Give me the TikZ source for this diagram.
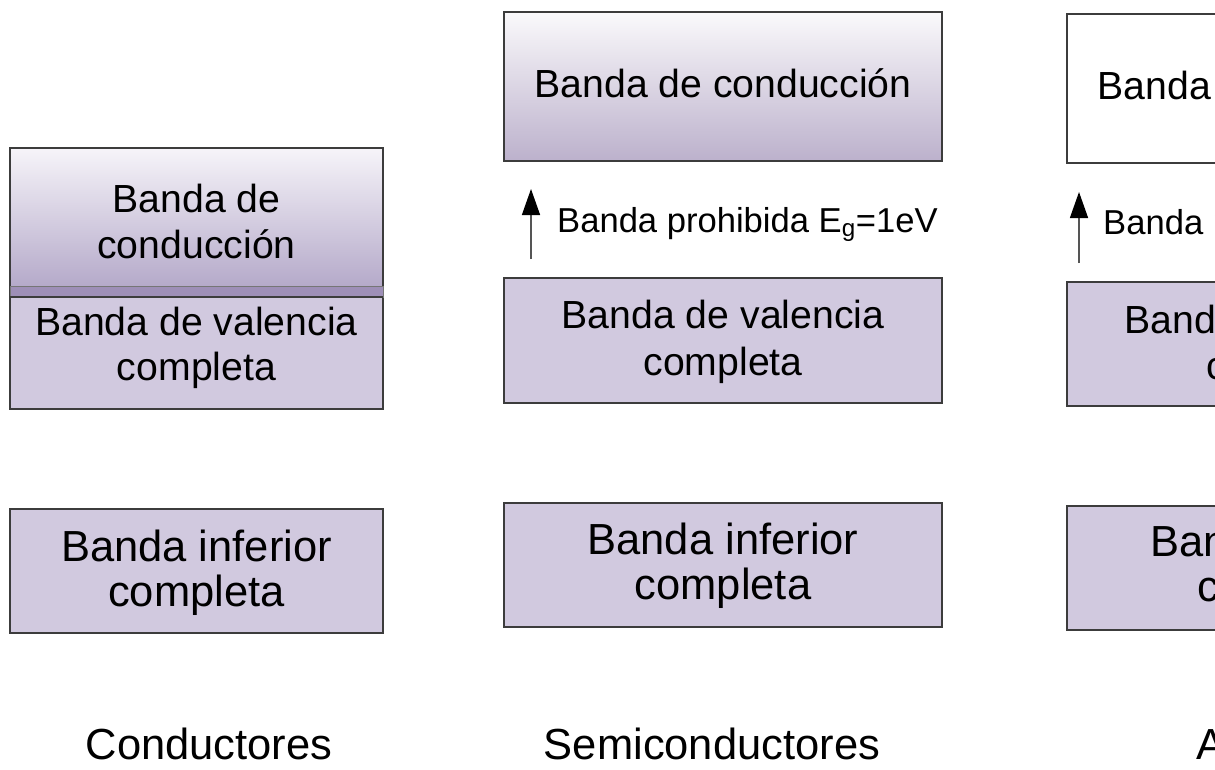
\documentclass[tikz,border=0pt]{standalone}
\usepackage{fontspec}
\setmainfont{Liberation Sans}
\usetikzlibrary{arrows.meta}
\definecolor{lav}{RGB}{209,201,223}
\definecolor{lavdark}{RGB}{158,143,183}
\definecolor{gradtopA}{RGB}{246,244,249}
\definecolor{gradbotA}{RGB}{176,164,198}
\definecolor{gradtopB}{RGB}{250,249,251}
\definecolor{gradbotB}{RGB}{188,177,204}
\definecolor{edge}{RGB}{60,60,60}
\definecolor{arrowline}{RGB}{85,85,85}
\begin{document}
\begin{tikzpicture}[x=1pt,y=-1pt,
  bandbox/.style={draw=edge, line width=1.3pt, inner sep=0pt, outer sep=0pt, anchor=north west},
  fullbox/.style={bandbox, fill=lav},
  condA/.style={bandbox, top color=gradtopA, bottom color=gradbotA},
  condB/.style={bandbox, top color=gradtopB, bottom color=gradbotB},
  emptybox/.style={bandbox, fill=white},
  overlapbox/.style={draw=edge!70, line width=0.8pt, fill=lavdark, inner sep=0pt, outer sep=0pt, anchor=north west},
  btxt/.style={font=\fontsize{39.2}{46}\selectfont, inner sep=0pt, anchor=base},
  ltxt/.style={font=\fontsize{43.5}{50}\selectfont, inner sep=0pt, anchor=base},
  gtxt/.style={font=\fontsize{34.6}{40}\selectfont, inner sep=0pt, anchor=base west},
  gaparrow/.style={draw=arrowline, line width=1.4pt, -{Triangle[width=18pt,length=26pt,color=black]}}
]
\useasboundingbox (0,0) rectangle (1215,769);
\clip (0,0) rectangle (1215,769);
\fill[white] (0,0) rectangle (1215,769);

% ---------- Conductores ----------
\node[condA, minimum width=373pt, minimum height=149pt] (c1) at (10,148) {};
\node[fullbox, minimum width=373pt, minimum height=112pt] (v1) at (10,297) {};
\node[overlapbox, minimum width=373pt, minimum height=11pt] (o1) at (10,286) {};
\draw[edge, line width=1.5pt] (o1.south west) -- (o1.south east);
\node[fullbox, minimum width=373pt, minimum height=124pt] (i1) at (10,509) {};

\node[btxt] (t1a) at (196.5,212) {Banda de};
\node[btxt] (t1b) at (196.5,258) {conducción};
\node[btxt] (t1c) at (196.5,335) {Banda de valencia};
\node[btxt] (t1d) at (196.5,380) {completa};
\node[ltxt] (t1e) at (196.5,561) {Banda inferior};
\node[ltxt] (t1f) at (196.5,606) {completa};
\node[ltxt] (l1) at (209,759) {Conductores};

% ---------- Semiconductores ----------
\node[condB, minimum width=438pt, minimum height=149pt] (c2) at (504,12) {};
\node[fullbox, minimum width=438pt, minimum height=125pt] (v2) at (504,278) {};
\node[fullbox, minimum width=438pt, minimum height=124pt] (i2) at (504,503) {};

\node[btxt] (t2a) at (723,97) {Banda de conducción};
\coordinate (a2s) at (531,259);
\coordinate (a2e) at (531,189);
\draw[gaparrow] (a2s) -- (a2e);
\node[gtxt] (g2) at (557,232) {Banda prohibida E\textsubscript{g}=1eV};
\node[btxt] (t2c) at (723,328) {Banda de valencia};
\node[btxt] (t2d) at (723,375) {completa};
\node[ltxt] (t2e) at (723,554) {Banda inferior};
\node[ltxt] (t2f) at (723,599) {completa};
\node[ltxt] (l2) at (712,759) {Semiconductores};

% ---------- Aislantes (cut by the right edge) ----------
\node[emptybox, minimum width=438pt, minimum height=149pt] (c3) at (1067,14) {};
\node[fullbox, minimum width=438pt, minimum height=124pt] (v3) at (1067,282) {};
\node[fullbox, minimum width=438pt, minimum height=124pt] (i3) at (1067,506) {};

\node[btxt] (t3a) at (1286,99) {Banda de conducción};
\coordinate (a3s) at (1079,263);
\coordinate (a3e) at (1079,192);
\draw[gaparrow] (a3s) -- (a3e);
\node[gtxt] (g3) at (1103,234) {Banda prohibida};
\node[btxt] (t3c) at (1286,333) {Banda de valencia};
\node[btxt] (t3d) at (1286,379) {completa};
\node[ltxt] (t3e) at (1286,556) {Banda inferior};
\node[ltxt] (t3f) at (1286,601) {completa};
\node[ltxt, anchor=base west] (l3) at (1196,759) {Aislantes};
\end{tikzpicture}
\end{document}
